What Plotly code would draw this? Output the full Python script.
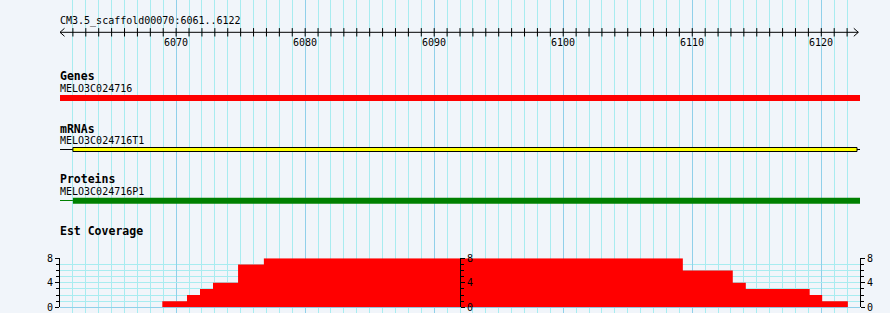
import plotly.graph_objects as go

# ---------------- data ----------------
view_start, view_end = 6061, 6123
region_title = "CM3.5_scaffold00070:6061..6122"
ruler_ticks = list(range(6062, 6123))
ruler_labels = [6070, 6080, 6090, 6100, 6110, 6120]

gene_name = "MELO3C024716"
gene_start, gene_end = 6060.9, 6123.15

mrna_name = "MELO3C024716T1"
mrna_start, mrna_exon_start, mrna_exon_end, mrna_end = 6061, 6062, 6122.77, 6123.15

protein_name = "MELO3C024716P1"
protein_start, cds_start, cds_end = 6061, 6062, 6123.05

cov_edges = [6068.93, 6070.84, 6071.85, 6072.86, 6074.8, 6076.8,
             6109.27, 6113.14, 6114.15, 6119.1, 6120.07, 6122.06]
cov_values = [1, 2, 3, 4, 7, 8, 6, 4, 3, 2, 1]
cov_ticks = [0, 4, 8]
cov_max = 8

# ---------------- style ----------------
W, H = 890, 313
L, R = 60, 30
BG = "#f1f5fa"
GRID_MINOR = "#a8ecf0"
GRID_MAJOR = "#90d0ea"
MONO = "DejaVu Sans Mono"
px_per_bp = (W - L - R) / (view_end - view_start)

fig = go.Figure()

# ruler tick marks (cross the ruler line)
fig.add_trace(go.Scatter(
    x=ruler_ticks, y=[32.3] * len(ruler_ticks), mode="markers",
    marker=dict(symbol="line-ns", size=6, line=dict(width=1, color="black")),
    hoverinfo="skip", showlegend=False, xaxis="x", yaxis="y"))

# coverage histogram
fig.add_trace(go.Scatter(
    x=cov_edges, y=cov_values + [cov_values[-1]], mode="lines",
    line=dict(shape="hv", width=0, color="red"),
    fill="tozeroy", fillcolor="red",
    hoverinfo="skip", showlegend=False, xaxis="x", yaxis="y2"))
# dummy traces so the extra coverage axes get drawn
for ax in ("y3", "y4"):
    fig.add_trace(go.Scatter(x=[None], y=[None], mode="markers",
                             showlegend=False, xaxis="x", yaxis=ax))

shapes = []
# ruler line with arrowheads
ah = 4.5 / px_per_bp
r_end = view_end - 1.7 / px_per_bp
shapes.append(dict(type="line", xref="x", yref="y", x0=view_start, x1=r_end,
                   y0=32.3, y1=32.3, line=dict(color="black", width=1)))
shapes.append(dict(type="path", xref="x", yref="y",
                   path=f"M {view_start+ah},28.3 L {view_start},32.3 L {view_start+ah},36.3",
                   line=dict(color="black", width=1)))
shapes.append(dict(type="path", xref="x", yref="y",
                   path=f"M {r_end-ah},28.3 L {r_end},32.3 L {r_end-ah},36.3",
                   line=dict(color="black", width=1)))

# gene
shapes.append(dict(type="rect", xref="x", yref="y", x0=gene_start, x1=gene_end,
                   y0=95, y1=101, fillcolor="red", line=dict(width=0), layer="above"))
# mRNA
shapes.append(dict(type="line", xref="x", yref="y", x0=mrna_start, x1=mrna_exon_start,
                   y0=149.5, y1=149.5, line=dict(color="black", width=1)))
shapes.append(dict(type="line", xref="x", yref="y", x0=mrna_exon_end, x1=mrna_end,
                   y0=149.5, y1=149.5, line=dict(color="black", width=1)))
shapes.append(dict(type="rect", xref="x", yref="y", x0=mrna_exon_start, x1=mrna_exon_end,
                   y0=147.5, y1=151.5, fillcolor="yellow",
                   line=dict(color="black", width=1), layer="above"))
# protein
shapes.append(dict(type="line", xref="x", yref="y", x0=protein_start, x1=cds_start,
                   y0=200.5, y1=200.5, line=dict(color="green", width=1)))
shapes.append(dict(type="rect", xref="x", yref="y", x0=cds_start, x1=cds_end,
                   y0=197.7, y1=203.7, fillcolor="green", line=dict(width=0), layer="above"))

ann = []
def label(text, y, bold=False):
    ann.append(dict(text=f"<b>{text}</b>" if bold else text, xref="x", yref="y",
                    x=view_start, y=y, xanchor="left", yanchor="middle", showarrow=False,
                    xshift=-2, font=dict(family=MONO, size=11.5 if bold else 10, color="black")))

label(region_title, 20.5)
label("Genes", 76, True)
label(gene_name, 88)
label("mRNAs", 128.5, True)
label(mrna_name, 140)
label("Proteins", 179, True)
label(protein_name, 191)
label("Est Coverage", 231, True)

for t in ruler_labels:
    ann.append(dict(text=str(t), xref="x", yref="y", x=t, y=42.5, xanchor="center",
                    yanchor="middle", showarrow=False,
                    font=dict(family=MONO, size=10, color="black")))

cov_dom = [(H - 307.3) / H, (H - 258.3) / H]
cov_axis_common = dict(range=[0, cov_max], tickvals=cov_ticks, ticks="outside", ticklen=4,
                       tickcolor="black", showline=True, linecolor="black", linewidth=1,
                       tickfont=dict(family=MONO, size=10, color="black"),
                       fixedrange=True, automargin=False)
minor_common = dict(dtick=1, ticks="outside", ticklen=3, tickcolor="black")

fig.update_layout(
    template="none",
    width=W, height=H, margin=dict(l=L, r=R, t=0, b=0, pad=0, autoexpand=False),
    paper_bgcolor=BG, plot_bgcolor=BG, showlegend=False,
    shapes=shapes, annotations=ann,
    xaxis=dict(range=[view_start, view_end], domain=[0, 1], anchor="y",
               tick0=6060, dtick=10, showgrid=True, gridcolor=GRID_MAJOR, gridwidth=1,
               minor=dict(dtick=1, showgrid=True, gridcolor=GRID_MINOR, gridwidth=1),
               showticklabels=False, ticks="", zeroline=False, showline=False,
               automargin=False, fixedrange=True),
    yaxis=dict(range=[H, 0], domain=[0, 1], visible=False, showgrid=False,
               zeroline=False, automargin=False, fixedrange=True),
    yaxis2=dict(domain=cov_dom, anchor="x", side="left", showgrid=True,
                gridcolor=GRID_MINOR, zeroline=True, zerolinecolor=GRID_MAJOR,
                minor=dict(showgrid=True, gridcolor=GRID_MINOR, **minor_common),
                **cov_axis_common),
    yaxis3=dict(overlaying="y2", anchor="free", position=0.5, side="right",
                showgrid=False, zeroline=False, minor=minor_common, **cov_axis_common),
    yaxis4=dict(overlaying="y2", anchor="free", position=1.0, side="right",
                showgrid=False, zeroline=False, minor=minor_common, **cov_axis_common),
)

fig.write_html("out.html")
